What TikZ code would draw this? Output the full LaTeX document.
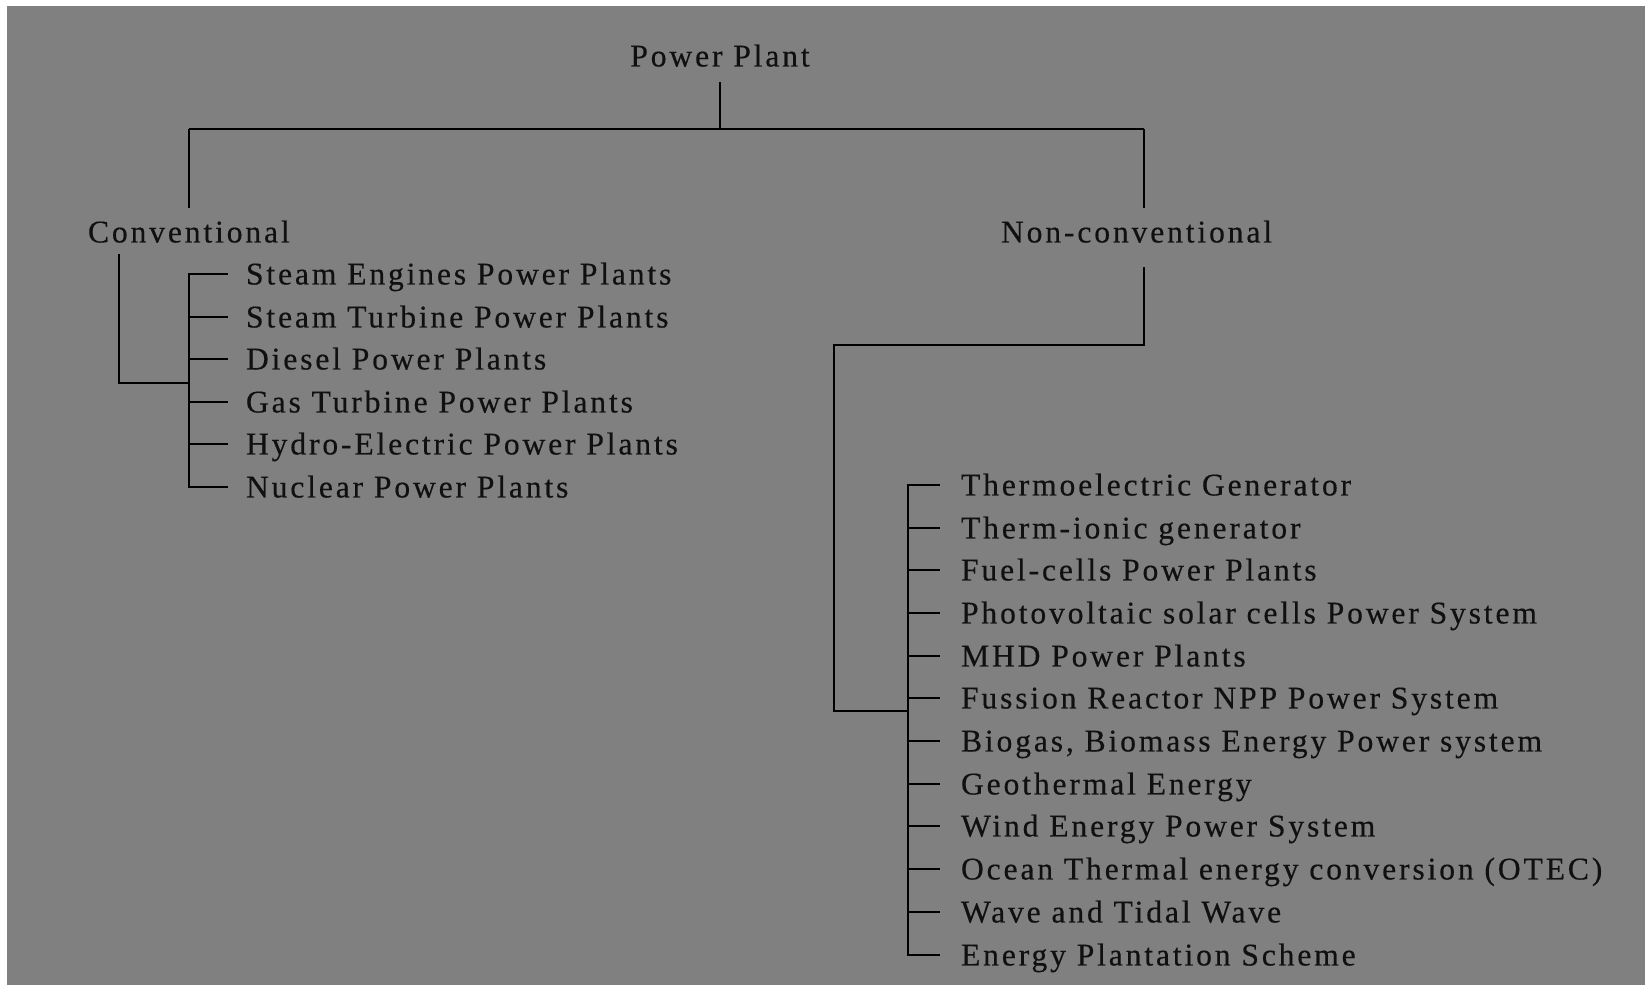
\documentclass[tikz,border=0pt]{standalone}
\usepackage{fontspec}
\setmainfont{Liberation Serif}[LetterSpace=9,FakeBold=0.4]
\usepackage{xcolor}
\usetikzlibrary{positioning}
\definecolor{bggray}{RGB}{128,128,128}
\definecolor{ink}{RGB}{16,16,16}

\begin{document}
\begin{tikzpicture}[x=0.02cm,y=-0.02cm,line width=0.4mm,
    every node/.style={text=ink,inner sep=0pt,font=\fontsize{18}{21}\selectfont,
      text height=11.9pt,text depth=0pt},
    item/.style={anchor=west}]
        % page and grey field
            \useasboundingbox (0,0) rectangle (1647,985);
            \fill[bggray] (7,6) rectangle (1645,985);

        % the three headings
            \node (pp) at (720,56) {Power Plant};
            \node[item] (conv) at (87,232) {Conventional};
            \node[item] (ncon) at (1000,232) {Non-conventional};

        % conventional plants
            \node[item] (c1) at (245,274) {Steam Engines Power Plants};
            \node[item] (c2) at (245,317) {Steam Turbine Power Plants};
            \node[item] (c3) at (245,359) {Diesel Power Plants};
            \node[item] (c4) at (245,402) {Gas Turbine Power Plants};
            \node[item] (c5) at (245,444) {Hydro-Electric Power Plants};
            \node[item] (c6) at (245,487) {Nuclear Power Plants};

        % non-conventional plants
            \node[item] (n1) at (960,485) {Thermoelectric Generator};
            \node[item] (n2) at (960,528) {Therm-ionic generator};
            \node[item] (n3) at (960,570) {Fuel-cells Power Plants};
            \node[item] (n4) at (960,613) {Photovoltaic solar cells Power System};
            \node[item] (n5) at (960,656) {MHD Power Plants};
            \node[item] (n6) at (960,698) {Fussion Reactor NPP Power System};
            \node[item] (n7) at (960,741) {Biogas, Biomass Energy Power system};
            \node[item] (n8) at (960,784) {Geothermal Energy};
            \node[item] (n9) at (960,826) {Wind Energy Power System};
            \node[item] (n10) at (960,869) {Ocean Thermal energy conversion (OTEC)};
            \node[item] (n11) at (960,912) {Wave and Tidal Wave};
            \node[item] (n12) at (960,955) {Energy Plantation Scheme};

        % junction points
            \coordinate (top) at (720,129);
            \coordinate (lj) at (189,129);
            \coordinate (rj) at (1144,129);
            \coordinate (cd) at (119,383);
            \coordinate (cj) at (189,383);
            \coordinate (nb) at (1144,345);
            \coordinate (nc) at (834,345);
            \coordinate (nd) at (834,711);
            \coordinate (nj) at (908,711);

        % main tree
            \draw[shorten <=0.3cm] (pp.south) to (top);
            \draw (lj) to (rj);
            \draw[shorten >=0.26cm] (lj) to (conv.north -| lj);
            \draw[shorten >=0.26cm] (rj) to (ncon.north -| rj);

        % left bracket
            \draw[shorten <=0.22cm] (conv.south -| cd) to (cd) to (cj);
            \draw[shorten <=0.34cm,shorten >=0.34cm] (c1.west) to (c1.west -| cj) to (c6.west -| cj) to (c6.west);
            \draw[shorten >=0.34cm] (c2.west -| cj) to (c2.west);
            \draw[shorten >=0.34cm] (c3.west -| cj) to (c3.west);
            \draw[shorten >=0.34cm] (c4.west -| cj) to (c4.west);
            \draw[shorten >=0.34cm] (c5.west -| cj) to (c5.west);

        % right bracket
            \draw[shorten <=0.48cm] (ncon.south -| nb) to (nb) to (nc) to (nd) to (nj);
            \draw[shorten <=0.4cm,shorten >=0.4cm] (n1.west) to (n1.west -| nj) to (n12.west -| nj) to (n12.west);
            \draw[shorten >=0.4cm] (n2.west -| nj) to (n2.west);
            \draw[shorten >=0.4cm] (n3.west -| nj) to (n3.west);
            \draw[shorten >=0.4cm] (n4.west -| nj) to (n4.west);
            \draw[shorten >=0.4cm] (n5.west -| nj) to (n5.west);
            \draw[shorten >=0.4cm] (n6.west -| nj) to (n6.west);
            \draw[shorten >=0.4cm] (n7.west -| nj) to (n7.west);
            \draw[shorten >=0.4cm] (n8.west -| nj) to (n8.west);
            \draw[shorten >=0.4cm] (n9.west -| nj) to (n9.west);
            \draw[shorten >=0.4cm] (n10.west -| nj) to (n10.west);
            \draw[shorten >=0.4cm] (n11.west -| nj) to (n11.west);
        \end{tikzpicture}
\end{document}
